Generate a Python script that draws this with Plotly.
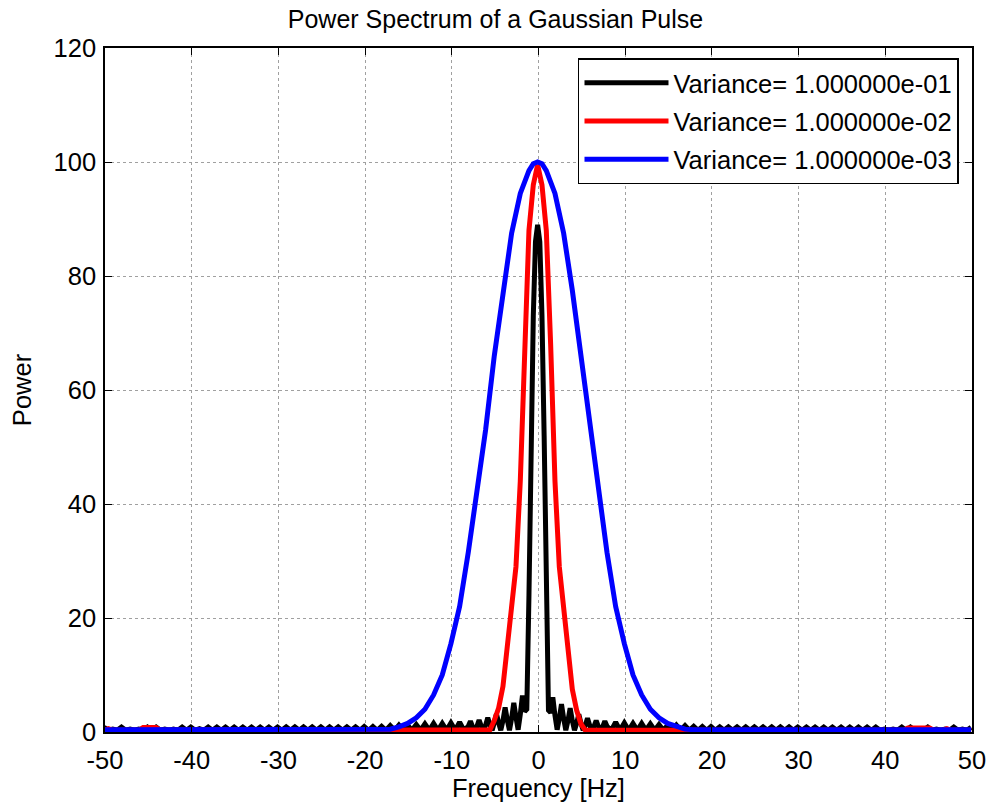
import numpy as np
import plotly.graph_objects as go

# ---------------- data ----------------
legend_names = ["Variance= 1.000000e-01", "Variance= 1.000000e-02", "Variance= 1.000000e-03"]
x_ticks = [-50, -40, -30, -20, -10, 0, 10, 20, 30, 40, 50]
x_tick_labels = ["-50", "-40", "-30", "-20", "-10", "0", "10", "20", "30", "40", "50"]
y_ticks = [0, 20, 40, 60, 80, 100, 120]
y_tick_labels = ["0", "20", "40", "60", "80", "100", "120"]

# variance 0.1 (black): outer-left part, step 0.5 Hz, from -50.1 to -8.6
black_left_freq = np.arange(-50.1, -8.59, 0.5)
black_left_power = [
    0.8, 0.3, 0.5, 0.3, 0.85, 0.3, 0.5, 0.3, 0.5, 0.3, 0.85, 0.3, 0.85, 0.3, 0.5, 0.3,
    0.5, 0.3, 0.85, 0.3, 0.85, 0.3, 0.6, 0.3, 0.85, 0.3, 0.85, 0.3, 0.85, 0.3, 0.85, 0.3,
    0.85, 0.3, 0.85, 0.3, 0.85, 0.3, 0.85, 0.3, 0.85, 0.3, 0.9, 0.3, 0.9, 0.3, 0.9, 0.3,
    0.9, 0.3, 0.9, 0.3, 0.9, 0.3, 0.9, 0.3, 0.9, 0.3, 0.9, 0.3, 0.95, 0.3, 0.95, 0.3,
    1.0, 0.3, 1.1, 0.3, 1.2, 0.3, 1.2, 0.3, 1.3, 0.3, 1.4, 0.3, 1.5, 0.3, 1.5, 0.3,
    1.6, 0.3, 1.7, 0.3,
]
# central part, step 0.25 Hz, from -8.1 to 7.9
black_mid_freq = np.arange(-8.1, 7.91, 0.25)
black_mid_power = [
    1.0, 1.9, 0.9, 0.3, 1.0, 2.1, 1.0, 0.3, 1.2, 2.5, 1.3, 0.3, 1.6, 3.2, 1.6, 0.3,
    2.0, 4.3, 2.1, 0.3, 2.4, 5.1, 2.6, 0.4, 3.1, 6.4, 3.6, 4.0, 24.0, 52.0, 73.0, 86.0,
    89.0,
    86.0, 73.0, 52.0, 24.0, 3.8, 3.4, 6.1, 2.9, 0.4, 2.4, 4.9, 2.4, 0.3, 2.0, 4.2,
    2.0, 0.3, 1.5, 3.1, 1.5, 0.3, 1.2, 2.4, 1.2, 0.3, 1.0, 2.0, 1.0, 0.3, 0.9, 1.9,
    1.0,
]
# outer-right part, step 0.5 Hz, from 8.4 to 49.9
black_right_freq = np.arange(8.4, 49.91, 0.5)
black_right_power = [
    0.3, 1.7, 0.3, 1.6, 0.3, 1.5, 0.3, 1.5, 0.3, 1.4, 0.3, 1.3, 0.3, 1.2, 0.3, 1.2,
    0.3, 1.1, 0.3, 1.0, 0.3, 0.95, 0.3, 0.95, 0.3, 0.9, 0.3, 0.9, 0.3, 0.9, 0.3, 0.9,
    0.3, 0.9, 0.3, 0.9, 0.3, 0.9, 0.3, 0.9, 0.3, 0.9, 0.3, 0.85, 0.3, 0.85, 0.3, 0.85,
    0.3, 0.85, 0.3, 0.85, 0.3, 0.85, 0.3, 0.85, 0.3, 0.85, 0.3, 0.85, 0.3, 0.85, 0.3, 0.5,
    0.3, 0.5, 0.3, 0.85, 0.3, 0.85, 0.3, 0.5, 0.3, 0.85, 0.3, 0.5, 0.3, 0.5, 0.3, 0.85,
    0.3, 0.5, 0.3, 0.8,
]

# variance 0.01 (red)
red_freq = [-50.1, -49.6, -49.1, -48.6, -46.6, -46.1, -45.6, -45.1, -44.6, -44.1, -43.6, -43.1,
            -20.1, -6.1, -5.6, -5.1, -4.6, -4.1, -3.6, -3.1, -2.6, -2.1, -1.6, -1.1, -0.6,
            -0.1, 0.4, 0.9, 1.4, 1.9, 2.4, 2.9, 3.4, 3.9, 4.4, 4.9, 5.4, 5.9,
            20.1, 42.1, 42.6, 43.1, 43.6, 44.1, 44.6, 45.1, 45.6, 46.6, 47.1, 47.6, 48.1, 49.9]
red_power = [0.3, 0.6, 0.3, 0.3, 0.3, 0.3, 0.8, 0.8, 0.8, 0.8, 0.3, 0.3,
             0.3, 0.3, 0.4, 2.0, 4.2, 8.0, 14.5, 22.0, 29.0, 44.0, 68.0, 88.0, 96.0,
             99.5, 96.0, 88.0, 68.0, 44.0, 29.0, 22.0, 14.0, 7.5, 3.8, 1.4, 0.3, 0.3,
             0.3, 0.3, 0.7, 0.7, 0.7, 0.7, 0.7, 0.7, 0.3, 0.3, 0.6, 0.3, 0.3, 0.3]

# variance 0.001 (blue)
blue_freq = [-50.1, -21.1, -20.1, -19.1, -18.1, -17.1, -16.1, -15.1, -14.1, -13.1, -12.1, -11.1,
             -10.1, -9.1, -8.1, -7.1, -6.1, -5.1, -4.1, -3.1, -2.1, -1.1, -0.6, -0.1, 0.4,
             0.9, 1.9, 2.9, 3.9, 4.9, 5.9, 6.9, 7.9, 8.9, 9.9, 10.9, 11.9, 12.9, 13.9,
             14.9, 15.9, 16.9, 17.9, 18.9, 19.9, 20.9, 49.9]
blue_power = [0.4, 0.4, 0.4, 0.4, 0.4, 0.5, 0.9, 1.5, 2.5, 4.0, 6.5, 10.0,
              15.5, 22.0, 31.5, 42.0, 53.0, 66.0, 77.5, 87.5, 94.5, 98.5, 99.7, 100.0, 99.7,
              98.5, 94.5, 87.5, 77.5, 66.0, 53.0, 42.0, 31.5, 22.0, 15.5, 10.0, 6.5, 4.0, 2.5,
              1.5, 0.9, 0.5, 0.4, 0.4, 0.4, 0.4, 0.4]

black_freq = np.concatenate([black_left_freq, black_mid_freq, black_right_freq])
black_power = black_left_power + black_mid_power + black_right_power

# ---------------- figure ----------------
FONT = "Liberation Sans, Arial, Helvetica, sans-serif"
FS = 25.5
fig = go.Figure()
fig.add_trace(go.Scatter(x=black_freq, y=black_power, mode="lines", name=legend_names[0],
                         legendgroup="a", line=dict(color="#000000", width=5)))
fig.add_trace(go.Scatter(x=red_freq, y=red_power, mode="lines", name=legend_names[1],
                         legendgroup="b", line=dict(color="#ff0000", width=5)))
fig.add_trace(go.Scatter(x=blue_freq, y=blue_power, mode="lines", name=legend_names[2],
                         legendgroup="c", line=dict(color="#0000ff", width=5)))

axis_common = dict(
    showline=True, linecolor="#000000", linewidth=1.5, mirror="ticks",
    ticks="inside", ticklen=7, tickwidth=1.2, tickcolor="#000000",
    showgrid=True, gridcolor="#a0a0a0", griddash="dot", gridwidth=1,
    zeroline=False, tickfont=dict(family=FONT, size=FS, color="#000000"),
)
fig.update_xaxes(range=[-50, 50], tickvals=x_ticks, ticktext=x_tick_labels, ticklabelstandoff=5,
                 title=dict(text="Frequency [Hz]", font=dict(family=FONT, size=FS, color="#000000"),
                            standoff=3), **axis_common)
fig.update_yaxes(range=[0, 120], tickvals=y_ticks, ticktext=y_tick_labels, ticklabelstandoff=2,
                 title=dict(text="Power", font=dict(family=FONT, size=FS, color="#000000"),
                            standoff=15), **axis_common)

fig.update_layout(
    width=991, height=806,
    margin=dict(l=105, r=19, t=48, b=74, autoexpand=False),
    paper_bgcolor="#ffffff", plot_bgcolor="#ffffff",
    font=dict(family=FONT, size=FS, color="#000000"),
    title=dict(text="Power Spectrum of a Gaussian Pulse", x=0.5, xanchor="center",
               y=1 - 19 / 806, yanchor="middle", yref="container",
               font=dict(family=FONT, size=25, color="#000000")),
    showlegend=True,
    legend=dict(x=0.985, xanchor="right", y=0.985, yanchor="top",
                bgcolor="#ffffff", bordercolor="#000000", borderwidth=1.5,
                font=dict(family=FONT, size=FS, color="#000000"),
                itemwidth=84, tracegroupgap=2),
)

# remove the page's default 8px body margin so the figure fills the window exactly
fig.write_html("out.html", config={"displayModeBar": False},
               post_script="document.body.style.margin='0px';")
